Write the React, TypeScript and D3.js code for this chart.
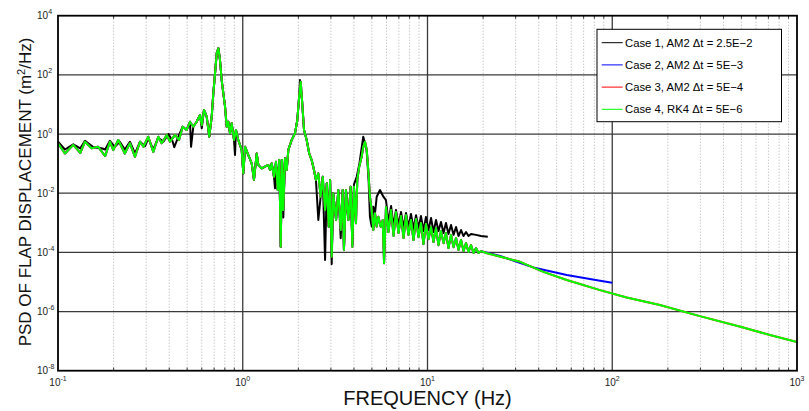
import React, { useRef, useEffect } from "react";
import * as d3 from "d3";

// ---- data ----
// shared low-frequency part of cases 2, 3 and 4 (they lie on top of each other below ~20 Hz)
const lowFreq = [
  0.1, 0.109, 0.121, 0.132, 0.14, 0.152, 0.165, 0.18, 0.191, 0.199, 0.212, 0.23, 0.245, 0.261, 0.278, 0.29, 0.308, 0.328,
  0.349, 0.364, 0.388, 0.404, 0.43, 0.452, 0.473,
  0.497, 0.518, 0.54, 0.563, 0.587, 0.6, 0.617, 0.638, 0.659, 0.679, 0.693, 0.708, 0.723, 0.738, 0.753, 0.769, 0.785,
  0.802, 0.819, 0.835, 0.853, 0.871, 0.897, 0.919, 0.946, 0.987, 1.007, 1.03, 1.072, 1.118, 1.15, 1.19,
  1.214, 1.266, 1.32, 1.375, 1.405, 1.435, 1.476, 1.513, 1.546, 1.577, 1.605, 1.631, 1.658, 1.693, 1.73, 1.765, 1.84,
  1.918, 1.974, 2.02, 2.06, 2.093, 2.146, 2.218, 2.29, 2.36, 2.43, 2.49, 2.565, 2.64, 2.71, 2.79, 2.85, 2.92, 2.97,
  3.03, 3.09, 3.2, 3.29, 3.39, 3.475, 3.53, 3.62, 3.73, 3.84, 3.92, 4.0, 4.1, 4.17, 4.27, 4.4, 4.49, 4.59, 4.69, 4.78,
  4.88, 4.99, 5.09, 5.2, 5.31, 5.42, 5.58, 5.72, 5.82,
  5.96, 6.15, 6.35, 6.55, 6.75, 6.97, 7.19, 7.42, 7.65, 7.89, 8.14, 8.4, 8.67, 8.94, 9.22, 9.51, 9.81, 10.13, 10.45,
  10.78, 11.12, 11.47, 11.83, 12.21, 12.59, 12.99, 13.41, 13.83, 14.27, 14.72, 15.19, 15.67, 16.16, 16.67, 17.2, 17.75,
  18.31, 18.89, 19.49,
];
const lowPsd = [
  0.49, 0.22, 0.43, 0.23, 0.55, 0.33, 0.37, 0.18, 0.55, 0.29, 0.63, 0.22, 0.49, 0.17, 0.55, 0.37, 0.81, 0.25, 0.81,
  0.49, 0.93, 0.55, 0.93, 0.63, 1.77,
  1.37, 2.6, 1.77, 2.6, 4.4, 2.0, 6.5, 3.85, 0.81, 3.85, 23.8, 113, 535, 790, 318, 67, 23.8, 8.4, 1.77, 2.6, 1.06, 2.3,
  0.63, 1.37, 0.63, 0.29, 0.047, 0.37, 0.195, 0.102, 0.028, 0.22,
  0.09, 0.069, 0.079, 0.09, 0.061, 0.102, 0.036, 0.116, 0.0128, 0.132, 1.55e-4, 0.132, 2.7e-3, 0.151, 0.061, 0.29,
  0.63, 1.06, 2.98, 18.3, 59, 14.1, 1.37, 0.63, 0.22, 0.132, 0.061, 0.028, 0.047, 7.6e-3, 0.036, 2.7e-3, 0.0216,
  7.4e-4, 0.028,
  7.1e-5, 9.9e-3, 1.24e-3, 0.0128, 5.7e-4, 0.0128, 1.2e-4, 0.0128, 1.24e-3, 0.0166, 1.55e-4, 0.0166, 9.6e-4, 0.028,
  0.079, 0.171, 0.37, 0.55, 0.29, 0.061, 7.6e-3, 2.7e-3, 5.7e-4, 2.1e-3, 7.4e-4, 1.6e-3, 7.4e-4, 1.24e-3, 4.3e-5,
  3.4e-3, 4.87e-4, 2.7e-3, 3.57e-4, 2.31e-3, 4.5e-4, 1.69e-3, 3.05e-4, 1.8e-3, 3.9e-4, 1.24e-3, 2.61e-4, 1.35e-3,
  3.3e-4, 9.8e-4, 1.91e-4, 9.08e-4, 2.8e-4, 7.2e-4, 2.24e-4, 6.65e-4, 1.75e-4, 5.3e-4, 2.05e-4, 4.5e-4, 1.4e-4,
  3.9e-4, 1.5e-4, 3.05e-4, 1.2e-4, 2.61e-4, 1.1e-4, 2.05e-4, 1.03e-4, 1.75e-4, 9.5e-5, 1.4e-4, 9.5e-5, 1.1e-4,
];

// case 2 (AM2, dt = 5E-3) tail, stops at 100 Hz
const case2TailFreq = [20.0, 24.7, 30.4, 37.4, 56.7, 85.9, 100];
const case2TailPsd = [1.05e-4, 7.5e-5, 4.8e-5, 3.1e-5, 1.71e-5, 1.1e-5, 9.4e-6];

// case 3 / case 4 tail, out to 1000 Hz
const case4TailFreq = [21, 26.8, 31.7, 42.4, 56.7, 85.9, 119.7, 181, 298, 500, 714, 1000];
const case4TailPsd = [9.3e-5, 6.3e-5, 4.8e-5, 2.2e-5, 1.16e-5, 5.3e-6, 3.0e-6, 1.66e-6, 7.0e-7, 3.0e-7, 1.6e-7, 9.3e-8];

// case 1 (AM2, dt = 2.5E-2), stops at ~21 Hz
const case1Freq = [
  0.1, 0.109, 0.121, 0.132, 0.14, 0.155, 0.172, 0.18, 0.191, 0.203, 0.216, 0.23, 0.245, 0.261, 0.278, 0.296, 0.308,
  0.328, 0.349, 0.372, 0.396, 0.416, 0.426, 0.448, 0.473,
  0.497, 0.518, 0.525, 0.54, 0.563, 0.587, 0.6, 0.617, 0.638, 0.659, 0.679, 0.693, 0.708, 0.723, 0.738, 0.753, 0.769,
  0.785, 0.802, 0.819, 0.835, 0.853, 0.871, 0.897, 0.908, 0.919, 0.946, 0.987, 1.007, 1.03, 1.072, 1.118, 1.15, 1.19,
  1.214, 1.266, 1.32, 1.375, 1.405, 1.435, 1.476, 1.495, 1.513, 1.546, 1.577, 1.605, 1.631, 1.658, 1.693, 1.73, 1.765,
  1.84, 1.918, 1.974, 2.02, 2.04, 2.093, 2.146, 2.218, 2.29, 2.36, 2.43, 2.49, 2.565, 2.64, 2.71, 2.79, 2.85, 2.92, 2.97,
  3.03, 3.09, 3.2, 3.29, 3.39, 3.475, 3.53, 3.62, 3.73, 3.84, 3.92, 4.0, 4.14, 4.28, 4.49, 4.68, 4.8, 4.88, 4.99, 5.09,
  5.2, 5.31, 5.53, 5.77,
  5.96, 6.15, 6.35, 6.55, 6.75, 6.97, 7.19, 7.42, 7.65, 7.89, 8.14, 8.4, 8.67, 8.94, 9.22, 9.51, 9.81, 10.13, 10.45,
  10.78, 11.12, 11.47, 11.83, 12.21, 12.59, 12.99, 13.41, 13.83, 14.27, 14.72, 15.19, 15.67, 16.16, 16.67, 17.2,
  18.31, 19.49, 21.2,
];
const case1Psd = [
  0.55, 0.3, 0.45, 0.33, 0.59, 0.36, 0.33, 0.3, 0.59, 0.37, 0.55, 0.3, 0.55, 0.22, 0.55, 0.39, 0.71, 0.3, 0.76, 0.55,
  1.0, 0.59, 0.36, 0.81, 1.77,
  1.37, 2.6, 0.37, 1.77, 2.6, 4.4, 1.56, 6.5, 3.85, 0.81, 3.85, 23.8, 113, 560, 800, 318, 67, 23.8, 8.4, 1.77, 2.6,
  1.06, 2.3, 0.63, 0.195, 1.37, 0.63, 0.29, 0.047, 0.37, 0.195, 0.102, 0.028, 0.22,
  0.09, 0.069, 0.079, 0.09, 0.061, 0.102, 0.036, 0.0146, 0.116, 0.0128, 0.132, 1.55e-4, 0.132, 1.5e-3, 0.151, 0.061,
  0.29, 0.63, 1.06, 2.98, 18.3, 67, 14.1, 1.37, 0.63, 0.22, 0.132, 0.061, 0.028, 1.24e-3, 7.6e-3, 0.036, 5.5e-5,
  0.0216, 7.4e-4, 0.028,
  4e-5, 9.9e-3, 1.24e-3, 0.0128, 3.0e-4, 0.0128, 1.2e-4, 0.0128, 1.24e-3, 0.0166, 2.0e-4, 0.02, 0.036, 0.1, 0.81,
  0.288, 0.028, 1.6e-3, 7.4e-4, 3.5e-3, 2.1e-3, 7.6e-3, 0.0128, 7.6e-3,
  5.88e-3, 1.06e-3, 3.7e-3, 7.77e-4, 2.7e-3, 8.4e-4, 2.31e-3, 6.65e-4, 2.15e-3, 7.2e-4, 1.98e-3, 6.15e-4, 1.8e-3,
  6.65e-4, 1.69e-3, 5.3e-4, 1.57e-3, 5.69e-4, 1.45e-3, 4.87e-4, 1.24e-3, 5.3e-4, 1.06e-3, 4.5e-4, 9.8e-4, 4.17e-4,
  8.4e-4, 3.9e-4, 7.2e-4, 3.57e-4, 5.69e-4, 3.57e-4, 4.87e-4, 3.57e-4, 4.17e-4,
  3.9e-4, 3.57e-4, 3.4e-4,
];

const legendLabels = [
  "Case 1, AM2 \u0394t = 2.5E\u22122",
  "Case 2, AM2 \u0394t = 5E\u22123",
  "Case 3, AM2 \u0394t = 5E\u22124",
  "Case 4, RK4 \u0394t = 5E\u22126",
];
const seriesColors = ["#000000", "#0000ff", "#ff0000", "#00ff00"];

const xTickExps = [-1, 0, 1, 2, 3];
const yTickExps = [-8, -6, -4, -2, 0, 2, 4];

const W = 809;
const H = 411;
const FONT = "'Liberation Sans', Arial, Helvetica, sans-serif";

const App: React.FC = () => {
  const svgRef = useRef<SVGSVGElement | null>(null);

  useEffect(() => {
    if (!svgRef.current) return;
    document.body.style.margin = "0";

    const svg = d3.select(svgRef.current);
    svg.selectAll("*").remove();

    const margin = { top: 15.7, right: 12, bottom: 40.3, left: 58 };
    const innerW = W - margin.left - margin.right;
    const innerH = H - margin.top - margin.bottom;

    const x = d3.scaleLog().domain([0.1, 1000]).range([0, innerW]);
    const y = d3.scaleLog().domain([1e-8, 1e4]).range([innerH, 0]);

    const g = svg.append("g").attr("transform", `translate(${margin.left},${margin.top})`);

    // grid: minor x (dotted), major x, major y
    const minorX: number[] = [];
    [0.1, 1, 10, 100].forEach((d) => {
      for (let k = 2; k <= 9; k++) minorX.push(d * k);
    });
    g.selectAll(".minorx")
      .data(minorX)
      .join("line")
      .attr("x1", (d) => x(d))
      .attr("x2", (d) => x(d))
      .attr("y1", 0)
      .attr("y2", innerH)
      .attr("stroke", "#b0b0b0")
      .attr("stroke-width", 1)
      .attr("stroke-dasharray", "1,2");

    g.selectAll(".majorx")
      .data([1, 10, 100])
      .join("line")
      .attr("x1", (d) => x(d))
      .attr("x2", (d) => x(d))
      .attr("y1", 0)
      .attr("y2", innerH)
      .attr("stroke", "#3a3a3a")
      .attr("stroke-width", 1.3);

    g.selectAll(".majory")
      .data([1e-6, 1e-4, 1e-2, 1, 1e2])
      .join("line")
      .attr("x1", 0)
      .attr("x2", innerW)
      .attr("y1", (d) => y(d))
      .attr("y2", (d) => y(d))
      .attr("stroke", "#3a3a3a")
      .attr("stroke-width", 1.3);

    // minor tick marks on x (bottom and top)
    g.selectAll(".tickb")
      .data(minorX)
      .join("line")
      .attr("x1", (d) => x(d))
      .attr("x2", (d) => x(d))
      .attr("y1", innerH)
      .attr("y2", innerH - 3)
      .attr("stroke", "#333");
    g.selectAll(".tickt")
      .data(minorX)
      .join("line")
      .attr("x1", (d) => x(d))
      .attr("x2", (d) => x(d))
      .attr("y1", 0)
      .attr("y2", 3)
      .attr("stroke", "#333");

    // data
    g.append("clipPath")
      .attr("id", "plotclip")
      .append("rect")
      .attr("width", innerW)
      .attr("height", innerH);

    const toPts = (f: number[], p: number[]) => f.map((v, i) => [v, p[i]] as [number, number]);
    const series = [
      toPts(case1Freq, case1Psd),
      toPts(lowFreq.concat(case2TailFreq), lowPsd.concat(case2TailPsd)),
      toPts(lowFreq.concat(case4TailFreq), lowPsd.concat(case4TailPsd)),
      toPts(lowFreq.concat(case4TailFreq), lowPsd.concat(case4TailPsd)),
    ];
    const line = d3
      .line<[number, number]>()
      .x((d) => x(d[0]))
      .y((d) => y(d[1]));

    const dataG = g.append("g").attr("clip-path", "url(#plotclip)");
    series.forEach((s, i) => {
      dataG
        .append("path")
        .datum(s)
        .attr("d", line)
        .attr("fill", "none")
        .attr("stroke", seriesColors[i])
        .attr("stroke-width", 2)
        .attr("stroke-linejoin", "round");
    });

    // axis box
    g.append("rect")
      .attr("width", innerW)
      .attr("height", innerH)
      .attr("fill", "none")
      .attr("stroke", "#000")
      .attr("stroke-width", 1.8);

    // tick labels
    const xl = g
      .selectAll(".xlab")
      .data(xTickExps)
      .join("text")
      .attr("x", (d) => x(Math.pow(10, d)))
      .attr("y", innerH + 15.5)
      .attr("text-anchor", "middle")
      .attr("font-family", FONT)
      .attr("font-size", 10)
      .attr("fill", "#222");
    xl.append("tspan").text("10");
    xl.append("tspan").attr("dy", -5).attr("font-size", 7).text((d) => String(d));

    const yl = g
      .selectAll(".ylab")
      .data(yTickExps)
      .join("text")
      .attr("x", -21)
      .attr("y", (d) => y(Math.pow(10, d)) + 3.5)
      .attr("text-anchor", "start")
      .attr("font-family", FONT)
      .attr("font-size", 10)
      .attr("fill", "#222");
    yl.append("tspan").text("10");
    yl.append("tspan").attr("dy", -5).attr("font-size", 7).text((d) => String(d));

    // axis titles
    svg
      .append("text")
      .attr("x", margin.left + innerW / 2)
      .attr("y", 405)
      .attr("text-anchor", "middle")
      .attr("font-family", FONT)
      .attr("font-size", 20)
      .attr("fill", "#111")
      .text("FREQUENCY (Hz)");

    const yt = svg
      .append("text")
      .attr("transform", `translate(31,192) rotate(-90)`)
      .attr("text-anchor", "middle")
      .attr("font-family", FONT)
      .attr("font-size", 17)
      .attr("fill", "#111");
    yt.append("tspan").text("PSD OF FLAP DISPLACEMENT (m");
    yt.append("tspan").attr("dy", -6).attr("font-size", 11).text("2");
    yt.append("tspan").attr("dy", 6).text("/Hz)");

    // legend
    const lg = svg.append("g").attr("transform", "translate(597,29.3)");
    lg.append("rect")
      .attr("width", 184.5)
      .attr("height", 92.4)
      .attr("fill", "#fff")
      .attr("stroke", "#000")
      .attr("stroke-width", 1);
    legendLabels.forEach((label, i) => {
      const cy = 13.4 + i * 22.2;
      lg.append("line")
        .attr("x1", 4.7)
        .attr("x2", 25.7)
        .attr("y1", cy)
        .attr("y2", cy)
        .attr("stroke", seriesColors[i])
        .attr("stroke-width", 1);
      lg.append("text")
        .attr("x", 28)
        .attr("y", cy + 4)
        .attr("font-family", FONT)
        .attr("font-size", 11.3)
        .attr("fill", "#000")
        .text(label);
    });
  }, []);

  return <svg ref={svgRef} width={W} height={H} style={{ display: "block" }}></svg>;
};

export default App;
